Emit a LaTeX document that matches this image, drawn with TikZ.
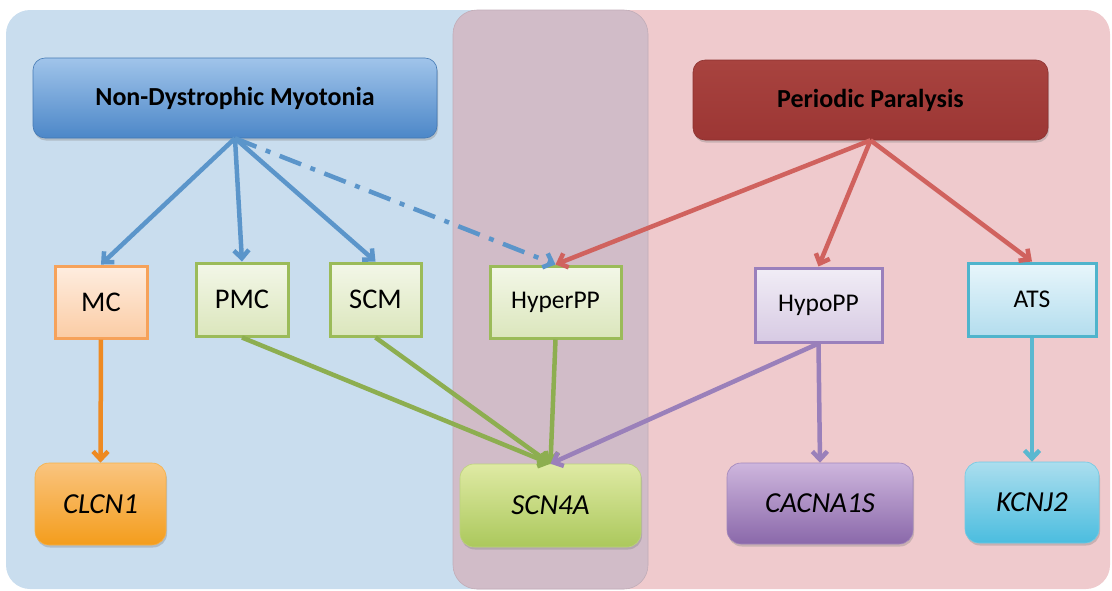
\documentclass[tikz,border=0pt]{standalone}
\usepackage{fontspec}
\setmainfont{Carlito}
\usetikzlibrary{arrows.meta,shadows}
\definecolor{bluepanel}{HTML}{C9DDEE}
\definecolor{pinkpanel}{HTML}{EFCACD}
\definecolor{overlap}{HTML}{D1BCC8}
\definecolor{ndmtop}{HTML}{A0C4EA}
\definecolor{ndmbot}{HTML}{4C87C8}
\definecolor{pptop}{HTML}{A8433F}
\definecolor{ppbot}{HTML}{9C3634}
\definecolor{arrblue}{HTML}{5B95CA}
\definecolor{arrred}{HTML}{D0625E}
\definecolor{arrorange}{HTML}{EE8A22}
\definecolor{arrgreen}{HTML}{8DAE50}
\definecolor{arrpurple}{HTML}{9A80BA}
\definecolor{arrcyan}{HTML}{5BB8D0}
\definecolor{orbord}{HTML}{F6A25A}
\definecolor{ortop}{HTML}{FEEDE0}
\definecolor{orbot}{HTML}{FBCCA4}
\definecolor{grbord}{HTML}{9BBB59}
\definecolor{grtop}{HTML}{F3F7E8}
\definecolor{grbot}{HTML}{DBE6BC}
\definecolor{pubord}{HTML}{9A80BC}
\definecolor{putop}{HTML}{F1EDF6}
\definecolor{pubot}{HTML}{D7CAE3}
\definecolor{cybord}{HTML}{4FB4CC}
\definecolor{cytop}{HTML}{E8F6FB}
\definecolor{cybot}{HTML}{B3DDEE}
\definecolor{gorange1}{HTML}{FAC47F}
\definecolor{gorange2}{HTML}{F49D1C}
\definecolor{ggreen1}{HTML}{DFEAA4}
\definecolor{ggreen2}{HTML}{ABC85C}
\definecolor{gpurple1}{HTML}{CEB6DD}
\definecolor{gpurple2}{HTML}{8A68AA}
\definecolor{gcyan1}{HTML}{ABDEEE}
\definecolor{gcyan2}{HTML}{4BBDDF}
\tikzset{
  shadowed/.style={drop shadow={shadow xshift=1pt,shadow yshift=-2.5pt,opacity=0.35}},
  headbox/.style={rounded corners=12pt, shadowed, inner sep=0pt,
    font=\fontsize{26pt}{28pt}\selectfont\bfseries, text=black},
  lightbox/.style={line width=3pt, inner sep=0pt, text=black},
  genebox/.style={rounded corners=14pt, shadowed, inner sep=0pt,
    font=\fontsize{29pt}{31pt}\selectfont\itshape, text=black},
  bigtxt/.style={font=\fontsize{28.5pt}{30pt}\selectfont},
  midtxt/.style={font=\fontsize{25.5pt}{27pt}\selectfont},
  conn/.style={line width=4.5pt, -{Straight Barb[length=8pt,width=15pt]}},
}
\begin{document}
\begin{tikzpicture}[x=1pt,y=-1pt]
\useasboundingbox (0,0) rectangle (1112,590);
% panels
\fill[bluepanel] [rounded corners=24pt] (6,10) rectangle (648,589);
\fill[pinkpanel] [rounded corners=24pt] (453,10) rectangle (1110,589);
\filldraw[fill=overlap, draw=overlap!92!black, line width=0.6pt] [rounded corners=24pt] (453,10) rectangle (648,589);

% header boxes
\node[headbox, top color=ndmtop, bottom color=ndmbot, draw=ndmbot!90!black, line width=0.6pt,
  minimum width=404pt, minimum height=80pt] (ndm) at (235,98) {Non-Dystrophic Myotonia};
\node[headbox, top color=pptop, bottom color=ppbot, draw=ppbot!90!black, line width=0.6pt,
  minimum width=355pt, minimum height=80pt] (pp) at (870.5,100) {Periodic Paralysis};

% disease boxes
\node[lightbox, bigtxt, draw=orbord, top color=ortop, bottom color=orbot,
  minimum width=92pt, minimum height=72pt] (mc) at (101,302) {MC};
\node[lightbox, bigtxt, draw=grbord, top color=grtop, bottom color=grbot,
  minimum width=92pt, minimum height=73pt] (pmc) at (242,299.5) {PMC};
\node[lightbox, bigtxt, draw=grbord, top color=grtop, bottom color=grbot,
  minimum width=91pt, minimum height=73pt] (scm) at (375.5,299.5) {SCM};
\node[lightbox, midtxt, draw=grbord, top color=grtop, bottom color=grbot,
  minimum width=131pt, minimum height=72pt] (hyper) at (555.5,302) {HyperPP};
\node[lightbox, midtxt, draw=pubord, top color=putop, bottom color=pubot,
  minimum width=127pt, minimum height=74pt] (hypo) at (818.5,305) {HypoPP};
\node[lightbox, midtxt, draw=cybord, top color=cytop, bottom color=cybot,
  minimum width=128pt, minimum height=73pt] (ats) at (1032,299.5) {ATS};

% gene boxes
\node[genebox, top color=gorange1, bottom color=gorange2, draw=gorange2!80!white, line width=0.6pt,
  minimum width=131pt, minimum height=82pt] (clcn1) at (100.5,504) {CLCN1};
\node[genebox, top color=ggreen1, bottom color=ggreen2, draw=ggreen2!80!white, line width=0.6pt,
  minimum width=181pt, minimum height=83pt] (scn4a) at (550.5,505.5) {SCN4A};
\node[genebox, top color=gpurple1, bottom color=gpurple2, draw=gpurple2!80!white, line width=0.6pt,
  minimum width=186pt, minimum height=81pt] (cacna) at (820,503.5) {CACNA1S};
\node[genebox, top color=gcyan1, bottom color=gcyan2, draw=gcyan2!80!white, line width=0.6pt,
  minimum width=134pt, minimum height=81pt] (kcnj2) at (1032,502.5) {KCNJ2};

% connectors from headers
\draw[conn, arrblue] (ndm.south) -- (mc.north);
\draw[conn, arrblue] (ndm.south) -- (pmc.north);
\draw[conn, arrblue] (ndm.south) -- (scm.north);
\draw[conn, arrblue, dash pattern=on 23pt off 10pt on 5pt off 10pt] (ndm.south) -- (hyper.north);
\draw[conn, arrred] (pp.south) -- (hyper.north);
\draw[conn, arrred] (pp.south) -- (hypo.north);
\draw[conn, arrred] (pp.south) -- (ats.north);

% connectors to genes
\draw[conn, arrorange] (mc.south) -- (clcn1.north);
\draw[conn, arrgreen] (pmc.south) -- (scn4a.north);
\draw[conn, arrgreen] (scm.south) -- (scn4a.north);
\draw[conn, arrgreen] (hyper.south) -- (scn4a.north);
\draw[conn, arrpurple] (hypo.south) -- (scn4a.north);
\draw[conn, arrpurple] (hypo.south) -- (cacna.north);
\draw[conn, arrcyan] (ats.south) -- (kcnj2.north);
\end{tikzpicture}
\end{document}
